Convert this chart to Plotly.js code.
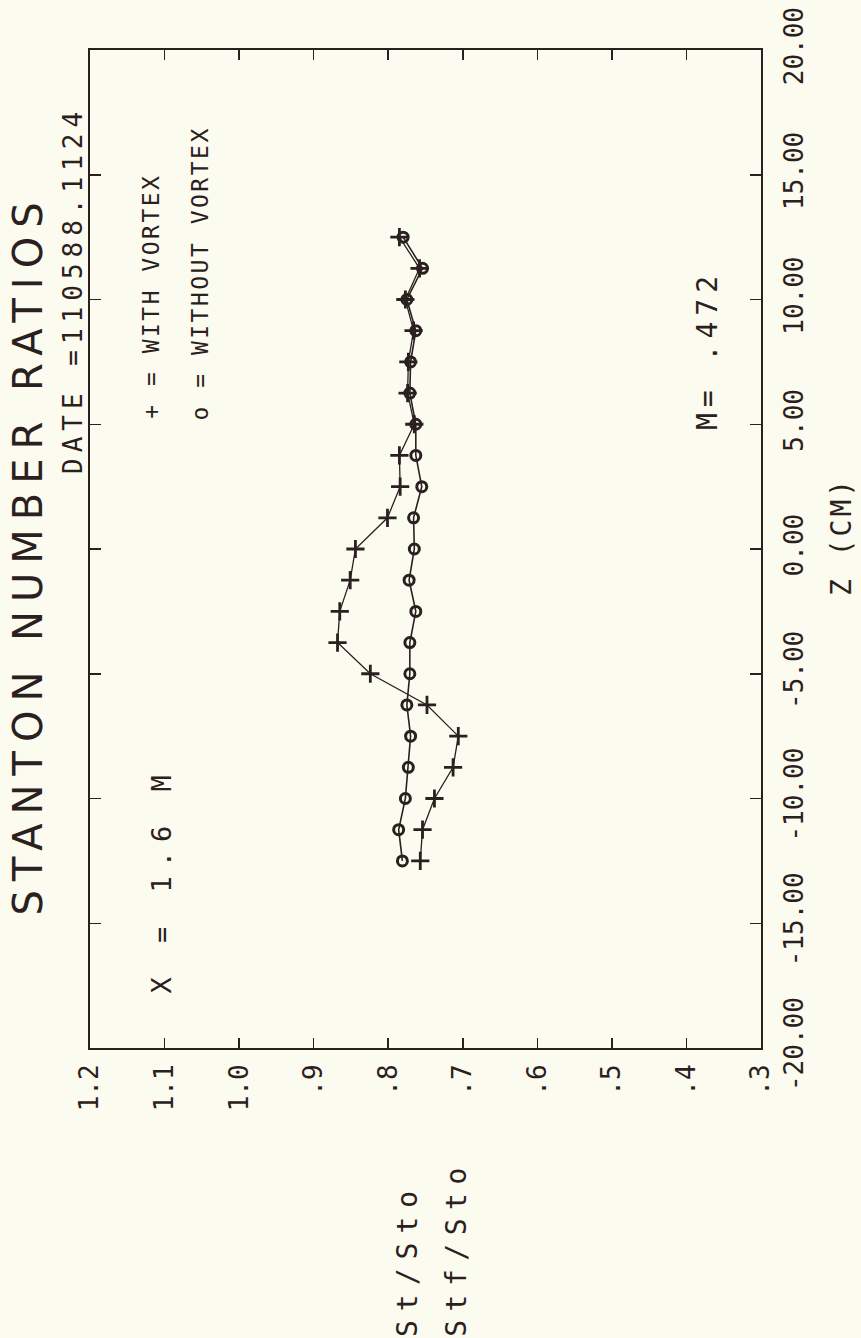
<!DOCTYPE html>
<html>
<head>
<meta charset="utf-8">
<script src="https://cdn.plot.ly/plotly-3.0.1.min.js"></script>
<style>
  html, body { margin: 0; padding: 0; background: #fbfbef; }
  #chart { width: 861px; height: 1338px; }
  g.annotation[data-index="0"] text { letter-spacing: 9px; }
  g.annotation[data-index="1"] text { letter-spacing: 6px; }
  g.annotation[data-index="2"] text { letter-spacing: 2.5px; }
  g.annotation[data-index="3"] text { letter-spacing: 2.5px; }
  g.annotation[data-index="4"] text { letter-spacing: 9px; }
  g.annotation[data-index="5"] text { letter-spacing: 6px; }
  g.annotation[data-index="6"] text { letter-spacing: 3px; }
  g.annotation[data-index="7"] text { letter-spacing: 9px; }
  g.annotation[data-index="8"] text { letter-spacing: 8.5px; }
</style>
</head>
<body>
<div id="chart"></div>
<script>
// Spanwise position Z (cm)
const zPositions = [12.5, 11.25, 10, 8.75, 7.5, 6.25, 5, 3.75, 2.5, 1.25, 0,
  -1.25, -2.5, -3.75, -5, -6.25, -7.5, -8.75, -10, -11.25, -12.5];
// St/Sto  (+ = with vortex)
const withVortex = [0.785, 0.758, 0.777, 0.766, 0.773, 0.774, 0.765, 0.785, 0.784, 0.801, 0.844,
  0.851, 0.865, 0.868, 0.824, 0.748, 0.706, 0.713, 0.738, 0.754, 0.757];
// Stf/Sto (o = without vortex)
const withoutVortex = [0.780, 0.754, 0.775, 0.763, 0.770, 0.771, 0.763, 0.763, 0.755, 0.766, 0.765,
  0.772, 0.763, 0.771, 0.771, 0.775, 0.770, 0.773, 0.777, 0.786, 0.781];

const stTickVals = [1.2, 1.1, 1.0, 0.9, 0.8, 0.7, 0.6, 0.5, 0.4, 0.3];
const stTickText = ['1.2', '1.1', '1.0', '.9', '.8', '.7', '.6', '.5', '.4', '.3'];
const zTickVals = [-20, -15, -10, -5, 0, 5, 10, 15, 20];
const zTickText = ['-20.00', '-15.00', '-10.00', '-5.00', '0.00', '5.00', '10.00', '15.00', '20.00'];

const ink = '#2b2020';
const mono = 'DejaVu Sans Mono, monospace';

const traces = [
  {
    x: withVortex, y: zPositions, type: 'scatter', mode: 'lines+markers',
    name: 'WITH VORTEX',
    line: { color: ink, width: 1.3 },
    marker: { symbol: 'cross-thin-open', size: 13, color: ink, line: { color: ink, width: 2.8 } }
  },
  {
    x: withoutVortex, y: zPositions, type: 'scatter', mode: 'lines+markers',
    name: 'WITHOUT VORTEX',
    line: { color: ink, width: 1.6 },
    marker: { symbol: 'circle-open', size: 10, color: ink, line: { color: ink, width: 3 } }
  }
];

const L = 90, T = 50, W = 671, H = 998;
function px(x) { return (x - L) / W; }
function py(y) { return (T + H - y) / H; }

function ann(text, x, y, size) {
  return {
    text: text, xref: 'paper', yref: 'paper', x: px(x), y: py(y),
    xanchor: 'center', yanchor: 'middle', textangle: -90, showarrow: false,
    font: { family: mono, size: size, color: ink }
  };
}

const annotations = [
  Object.assign(ann('STANTON NUMBER RATIOS', 28, 555, 40), { font: { family: 'DejaVu Sans, sans-serif', size: 40, color: ink } }),
  ann('DATE =110588.1124', 73, 290, 26),
  ann('+ = WITH VORTEX', 151, 296, 23),
  ann('o = WITHOUT VORTEX', 200, 274, 23),
  ann('X = 1.6 M', 161, 880, 27),
  ann('M= .472', 708, 350, 28),
  ann('Z (CM)', 841, 537, 28),
  ann('St/Sto', 407, 1260, 28),
  ann('Stf/Sto', 456, 1248, 28)
];

const layout = {
  width: 861, height: 1338,
  margin: { l: L, r: 861 - L - W, t: T, b: 1338 - T - H },
  paper_bgcolor: '#fbfbef', plot_bgcolor: '#fbfbef',
  showlegend: false,
  font: { family: mono, color: ink },
  xaxis: {
    range: [1.2, 0.3], tickvals: stTickVals, ticktext: stTickText, tickangle: -90,
    ticks: 'inside', ticklen: 10, tickwidth: 1.5, tickcolor: ink,
    showline: true, linecolor: ink, linewidth: 2, mirror: 'ticks',
    showgrid: false, zeroline: false,
    tickfont: { family: mono, size: 26, color: ink }, ticklabelstandoff: 4
  },
  yaxis: {
    range: [-20, 20], side: 'right', tickvals: zTickVals, ticktext: zTickText, tickangle: -90,
    ticks: 'inside', ticklen: 11, tickwidth: 1.5, tickcolor: ink,
    showline: true, linecolor: ink, linewidth: 2, mirror: 'ticks',
    showgrid: false, zeroline: false,
    tickfont: { family: mono, size: 26, color: ink }, ticklabelstandoff: 9
  },
  annotations: annotations
};

Plotly.newPlot('chart', traces, layout, { displayModeBar: false, staticPlot: true });
</script>
</body>
</html>
